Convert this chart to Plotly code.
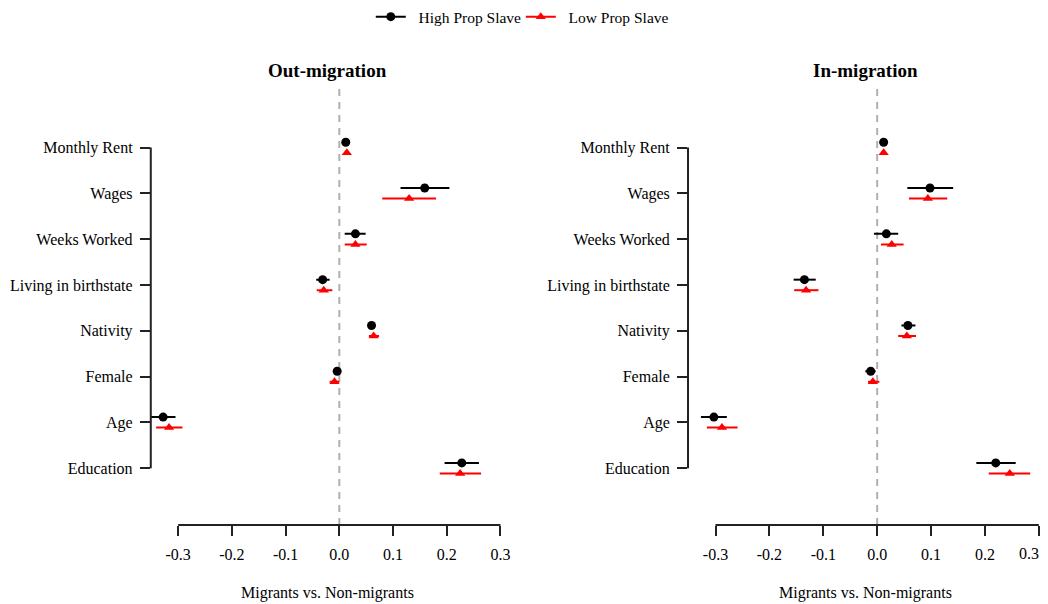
import plotly.graph_objects as go

categories = ["Monthly Rent", "Wages", "Weeks Worked", "Living in birthstate",
              "Nativity", "Female", "Age", "Education"]
x_ticks = [-0.3, -0.2, -0.1, 0.0, 0.1, 0.2, 0.3]
x_ticktext = ["-0.3", "-0.2", "-0.1", "0.0", "0.1", "0.2", "0.3"]

# Out-migration
out_high_est = [0.012, 0.159, 0.030, -0.031, 0.060, -0.004, -0.328, 0.228]
out_high_lo = [0.008, 0.114, 0.010, -0.043, 0.055, -0.008, -0.351, 0.196]
out_high_hi = [0.016, 0.205, 0.049, -0.018, 0.065, 0.000, -0.305, 0.260]
out_low_est = [0.014, 0.130, 0.030, -0.029, 0.064, -0.009, -0.317, 0.225]
out_low_lo = [0.010, 0.080, 0.010, -0.042, 0.055, -0.018, -0.341, 0.187]
out_low_hi = [0.018, 0.180, 0.051, -0.013, 0.074, 0.000, -0.292, 0.264]

# In-migration
in_high_est = [0.012, 0.098, 0.017, -0.135, 0.057, -0.012, -0.303, 0.220]
in_high_lo = [0.008, 0.056, -0.006, -0.155, 0.045, -0.022, -0.327, 0.184]
in_high_hi = [0.016, 0.141, 0.039, -0.114, 0.071, -0.003, -0.279, 0.257]
in_low_est = [0.012, 0.094, 0.027, -0.132, 0.055, -0.008, -0.288, 0.246]
in_low_lo = [0.008, 0.059, 0.007, -0.154, 0.039, -0.017, -0.316, 0.207]
in_low_hi = [0.016, 0.130, 0.049, -0.109, 0.072, 0.004, -0.259, 0.284]

FONT = "Liberation Serif"
W, H = 1048, 604
n = len(categories)
cat_pos = list(range(n, 0, -1))
dodge = 0.115

# layout helpers (target pixel -> page pixel -> paper fraction)
def fx(t):
    return (t + 0.8) / 0.9944

def fy(t):
    t = t - 3.0 * (524 - t) / 442
    return (t - 3.4) / 0.9943

def px_x(t):
    return min(fx(t) / W, 1.0)

def px_y(t):
    return 1 - fy(t) / H

fig = go.Figure()

panels = [
    ("x", "y", out_high_est, out_high_lo, out_high_hi, out_low_est, out_low_lo, out_low_hi),
    ("x2", "y2", in_high_est, in_high_lo, in_high_hi, in_low_est, in_low_lo, in_low_hi),
]

for xa, ya, he, hl, hh, le, ll, lh in panels:
    fig.add_trace(go.Scatter(
        x=he, y=[p + dodge for p in cat_pos], xaxis=xa, yaxis=ya, mode="markers",
        marker=dict(symbol="circle", size=9, color="black"),
        error_x=dict(type="data", symmetric=False,
                     array=[h - e for h, e in zip(hh, he)],
                     arrayminus=[e - l for e, l in zip(he, hl)],
                     color="black", thickness=2, width=0),
        showlegend=False, hoverinfo="skip"))
    fig.add_trace(go.Scatter(
        x=le, y=[p - dodge for p in cat_pos], xaxis=xa, yaxis=ya, mode="markers",
        marker=dict(symbol="triangle-up", size=9, color="red"),
        error_x=dict(type="data", symmetric=False,
                     array=[h - e for h, e in zip(lh, le)],
                     arrayminus=[e - l for e, l in zip(le, ll)],
                     color="red", thickness=2, width=0),
        showlegend=False, hoverinfo="skip"))

# legend entries
fig.add_trace(go.Scatter(x=[None], y=[None], mode="lines+markers",
                         name="\u00a0\u00a0High Prop Slave",
                         line=dict(color="black", width=2),
                         marker=dict(symbol="circle", size=9, color="black")))
fig.add_trace(go.Scatter(x=[None], y=[None], mode="lines+markers",
                         name="\u00a0\u00a0Low Prop Slave",
                         line=dict(color="red", width=2),
                         marker=dict(symbol="triangle-up", size=9, color="red")))

# pixel geometry of each panel (target picture)
left_x0, left_x1 = 150, 504
right_x0, right_x1 = 687.3, 1042.5
xr_left = [-0.351, 0.308]
scale_right = (right_x1 - right_x0) / (xr_left[1] - xr_left[0])
right_edge_target = 0.9944 * W - 0.8
xr_right = [xr_left[0], xr_left[0] + (min(right_x1, right_edge_target) - right_x0) / scale_right]

yr = [1 - 57 / 46, 1 + (467 - 82) / 46]
ydom = [px_y(524), px_y(82)]

# the last tick label of the right panel sits at the page edge; it is drawn as an annotation
x_ticktext_right = x_ticktext[:-1] + [""]

def xaxis_style(rng, dom, anchor, ticktext):
    return dict(range=rng, domain=dom, anchor=anchor, tickvals=x_ticks, ticktext=ticktext,
                ticks="outside", ticklen=10, tickwidth=2, tickcolor="#222", showline=False,
                showgrid=False, zeroline=False, ticklabelstandoff=5,
                tickfont=dict(family=FONT, size=16, color="black"))

def yaxis_style(anchor):
    return dict(range=yr, domain=ydom, anchor=anchor, tickvals=cat_pos, ticktext=categories,
                ticks="outside", ticklen=10, tickwidth=2, tickcolor="#222", showline=False,
                showgrid=False, zeroline=False, ticklabelstandoff=4,
                tickfont=dict(family=FONT, size=16, color="black"))

fig.update_layout(
    width=W, height=H,
    margin=dict(l=0, r=0, t=0, b=0),
    paper_bgcolor="white", plot_bgcolor="white",
    font=dict(family=FONT, size=16, color="black"),
    xaxis=xaxis_style(xr_left, [px_x(left_x0), px_x(left_x1)], "y", x_ticktext),
    yaxis=yaxis_style("x"),
    xaxis2=xaxis_style(xr_right, [px_x(right_x0), px_x(min(right_x1, right_edge_target))],
                       "y2", x_ticktext_right),
    yaxis2=yaxis_style("x2"),
    legend=dict(orientation="h", x=(fx(375) - 5) / W, xanchor="left", y=1.0167, yanchor="top",
                font=dict(family=FONT, size=15.5, color="black"),
                itemwidth=30, entrywidth=105, bgcolor="rgba(0,0,0,0)"),
)

shapes = []
for xa, ya in [("x", "y"), ("x2", "y2")]:
    shapes.append(dict(type="line", xref=xa, yref=ya + " domain", x0=0, x1=0, y0=0, y1=1,
                       line=dict(color="#b0b0b0", width=2, dash="7px,6px"), layer="below"))
    shapes.append(dict(type="line", xref=xa, yref=ya + " domain", x0=x_ticks[0], x1=x_ticks[-1],
                       y0=0, y1=0, line=dict(color="#222", width=2)))
    shapes.append(dict(type="line", xref=xa + " domain", yref=ya, x0=0, x1=0,
                       y0=min(cat_pos), y1=max(cat_pos), line=dict(color="#222", width=2)))
fig.update_layout(shapes=shapes)

annotations = [
    dict(text="<b>Out-migration</b>", x=px_x(327), y=px_y(68), xref="paper", yref="paper",
         showarrow=False, font=dict(family=FONT, size=19, color="black"),
         xanchor="center", yanchor="middle"),
    dict(text="<b>In-migration</b>", x=px_x(865), y=px_y(68), xref="paper", yref="paper",
         showarrow=False, font=dict(family=FONT, size=19, color="black"),
         xanchor="center", yanchor="middle"),
    dict(text="Migrants vs. Non-migrants", x=px_x(327), y=px_y(592), xref="paper", yref="paper",
         showarrow=False, font=dict(family=FONT, size=16, color="black"),
         xanchor="center", yanchor="middle"),
    dict(text="Migrants vs. Non-migrants", x=px_x(865), y=px_y(592), xref="paper", yref="paper",
         showarrow=False, font=dict(family=FONT, size=16, color="black"),
         xanchor="center", yanchor="middle"),
    dict(text=x_ticktext[-1], x=1.0, y=px_y(553), xref="paper", yref="paper",
         showarrow=False, font=dict(family=FONT, size=16, color="black"),
         xanchor="right", yanchor="middle", xshift=-1),
]
fig.update_layout(annotations=annotations)

fig.write_html("out.html",
               config={"displayModeBar": False},
               post_script="document.body.style.margin='0px';"
                           "document.body.style.overflow='hidden';")
